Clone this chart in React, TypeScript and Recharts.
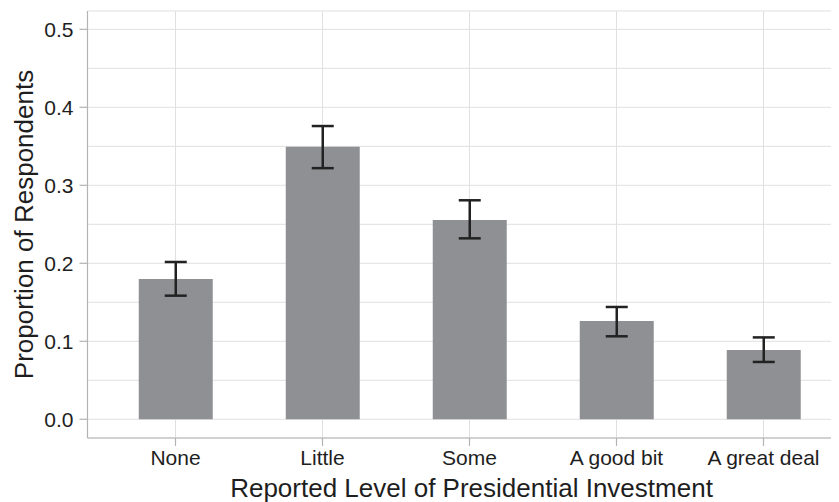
import React from 'react';
import { Bar, BarChart, CartesianGrid, ErrorBar, XAxis, YAxis } from 'recharts';

const levels = ['None', 'Little', 'Some', 'A good bit', 'A great deal'];
const proportions = [0.18, 0.3495, 0.2555, 0.126, 0.0888];
const lowerBounds = [0.1585, 0.322, 0.232, 0.1064, 0.0735];
const upperBounds = [0.2017, 0.376, 0.2808, 0.144, 0.105];

// major ticks get labels, the in-between ones only draw a grid line
const yTicks = [0, 0.05, 0.1, 0.15, 0.2, 0.25, 0.3, 0.35, 0.4, 0.45, 0.5];

const data = levels.map((level, i) => ({
  level,
  proportion: proportions[i],
  err: [proportions[i] - lowerBounds[i], upperBounds[i] - proportions[i]],
}));

const font = '"Liberation Sans", Arial, Helvetica, sans-serif';
const textColor = '#1e1e1e';
const borderColor = '#b3b3b3';
const gridColor = '#e0e0e0';
const TICK_SIZE = 8;
const TICK_MARGIN = 6;

function YTick(props: any) {
  const { x, y, payload } = props;
  const v = payload.value as number;
  const isMajor = Math.abs(v * 10 - Math.round(v * 10)) < 1e-6;
  if (!isMajor) return <g />;
  return (
    <g>
      <line
        x1={x + TICK_MARGIN}
        x2={x + TICK_MARGIN + TICK_SIZE}
        y1={y}
        y2={y}
        stroke={borderColor}
        strokeWidth={1.2}
      />
      <text x={x} y={y} dy="0.38em" textAnchor="end" fontSize={21} fill={textColor} fontFamily={font}>
        {v.toFixed(1)}
      </text>
    </g>
  );
}

function YTitle(props: any) {
  const vb = props.viewBox || { x: 0, y: 0, width: 0, height: 0 };
  const cx = vb.x + 33;
  const cy = vb.y + vb.height / 2;
  return (
    <text
      x={cx}
      y={cy}
      transform={`rotate(-90, ${cx}, ${cy})`}
      textAnchor="middle"
      fontSize={26}
      fill={textColor}
      fontFamily={font}
    >
      Proportion of Respondents
    </text>
  );
}

export default function App() {
  return (
    <div style={{ marginLeft: -8, marginTop: -8, width: 839, height: 502, overflow: 'hidden', background: '#fff' }}>
      <BarChart
        width={860}
        height={502}
        data={data}
        margin={{ top: 11, right: 8.5, bottom: 0, left: 0 }}
        barCategoryGap="25%"
        style={{ fontFamily: font }}
      >
        <CartesianGrid stroke={gridColor} strokeWidth={1} />
        <XAxis
          dataKey="level"
          height={64}
          padding={{ left: 14.5, right: 14.5 }}
          interval={0}
          tickSize={TICK_SIZE}
          tickMargin={4}
          tick={{ fontSize: 21, fill: textColor, fontFamily: font }}
          tickLine={{ stroke: borderColor, strokeWidth: 1.2 }}
          axisLine={{ stroke: borderColor, strokeWidth: 1.2 }}
          label={{
            value: 'Reported Level of Presidential Investment',
            position: 'insideBottom',
            offset: 5,
            dx: 2,
            fontSize: 26,
            fill: textColor,
            fontFamily: font,
          }}
        />
        <XAxis
          xAxisId="top"
          orientation="top"
          dataKey="level"
          height={0}
          tick={false}
          tickLine={false}
          axisLine={{ stroke: borderColor, strokeWidth: 1.2 }}
        />
        <YAxis
          type="number"
          width={87.5}
          domain={[-0.024, 0.5235]}
          allowDataOverflow
          ticks={yTicks}
          interval={0}
          tickSize={TICK_SIZE}
          tickMargin={TICK_MARGIN}
          tickLine={false}
          tick={<YTick />}
          axisLine={{ stroke: borderColor, strokeWidth: 1.2 }}
          label={<YTitle />}
        />
        <Bar dataKey="proportion" fill="#8f9094" isAnimationActive={false}>
          <ErrorBar dataKey="err" width={11} stroke="#222" strokeWidth={2.5} />
        </Bar>
      </BarChart>
    </div>
  );
}
